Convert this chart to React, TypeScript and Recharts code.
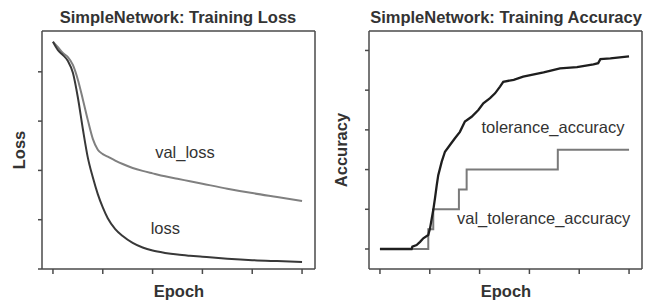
import { LineChart, Line, XAxis, YAxis } from "recharts";

const epochTicks = [0, 20, 40, 60, 80, 100];
const lossTicks = [0, 0.5, 1, 1.5, 2];
const accTicks = [0, 0.1, 0.2, 0.3, 0.4, 0.5];

// loss curves
const lossEpochs = [0, 2, 4, 6, 8, 10, 12, 14, 16, 18, 20, 22, 25, 28, 32, 36, 40, 45, 50, 55, 60, 70, 80, 90, 100];
const loss = [2.305, 2.22, 2.17, 2.11, 1.99, 1.74, 1.42, 1.13, 0.93, 0.76, 0.625, 0.515, 0.405, 0.335, 0.265, 0.218, 0.187, 0.163, 0.146, 0.134, 0.124, 0.105, 0.09, 0.08, 0.071];
const valLoss = [2.305, 2.25, 2.19, 2.15, 2.07, 1.92, 1.72, 1.51, 1.32, 1.21, 1.165, 1.14, 1.1, 1.065, 1.025, 0.995, 0.97, 0.94, 0.915, 0.89, 0.865, 0.815, 0.77, 0.73, 0.69];

// accuracy curves
const accEpochs = [0, 12.7, 13, 14.7, 16.1, 17.4, 19.4, 20.1, 20.8, 21.4, 22.1, 22.8, 23.4, 24.8, 26.1, 28.1, 30.1, 32.1, 34.1, 36.8, 39.5, 41.5, 44.2, 46.2, 48.2, 49.5, 53.7, 57.5, 65.7, 72.3, 79.1, 85.7, 87.6, 88.5, 92.5, 100];
const accuracy = [0, 0, 0.006, 0.01, 0.018, 0.027, 0.035, 0.052, 0.077, 0.098, 0.128, 0.161, 0.186, 0.22, 0.245, 0.262, 0.279, 0.295, 0.321, 0.333, 0.35, 0.367, 0.38, 0.392, 0.409, 0.421, 0.426, 0.434, 0.445, 0.455, 0.458, 0.465, 0.468, 0.478, 0.48, 0.485];
const valAccEpochs = [0, 19.4, 21.4, 31.7, 34.8, 71.4, 100];
const valAccuracy = [0, 0.05, 0.1, 0.15, 0.2, 0.25, 0.25];

const lossData = lossEpochs.map((e, i) => ({ epoch: e, loss: loss[i], val_loss: valLoss[i] }));
const accData = accEpochs.map((e, i) => ({ epoch: e, acc: accuracy[i] }));
const valAccData = valAccEpochs.map((e, i) => ({ epoch: e, val: valAccuracy[i] }));

const W = 327;
const H = 301;
// plot box: x 42..315, y 31..269 (axes take 10px each)
const margin = { top: 21, right: 2, bottom: 22, left: 32 };
const xDomain = [-4.4, 105.2];
const frame = "#4a4a4a";
const font = "'Liberation Sans', Arial, sans-serif";
const textColor = "#333";
const blank = () => "";

function Frame({ yDomain, yTicks }: { yDomain: number[]; yTicks: number[] }) {
  return [
    <XAxis key="xb" xAxisId="b" dataKey="epoch" type="number" domain={xDomain} ticks={epochTicks} height={10}
      tickFormatter={blank} tickSize={5} stroke={frame} strokeWidth={1.5} />,
    <XAxis key="xt" xAxisId="t" dataKey="epoch" orientation="top" type="number" domain={xDomain} height={10}
      tickFormatter={blank} tickLine={false} stroke={frame} strokeWidth={1.5} />,
    <YAxis key="yl" yAxisId="l" type="number" domain={yDomain} ticks={yTicks} width={10}
      tickFormatter={blank} tickSize={4} stroke={frame} strokeWidth={1.5} />,
    <YAxis key="yr" yAxisId="r" orientation="right" type="number" domain={yDomain} width={10}
      tickFormatter={blank} tickLine={false} stroke={frame} strokeWidth={1.5} />,
  ];
}

function LossChart() {
  return (
    <LineChart width={W} height={H} data={lossData} margin={margin}>
      {Frame({ yDomain: [0, 2.414], yTicks: lossTicks })}
      <Line xAxisId="b" yAxisId="l" dataKey="val_loss" type="monotone" stroke="#808080" strokeWidth={2}
        dot={false} isAnimationActive={false} />
      <Line xAxisId="b" yAxisId="l" dataKey="loss" type="monotone" stroke="#383838" strokeWidth={2}
        dot={false} isAnimationActive={false} />
    </LineChart>
  );
}

function AccuracyChart() {
  return (
    <LineChart width={W} height={H} margin={margin}>
      {Frame({ yDomain: [-0.0504, 0.549], yTicks: accTicks })}
      <Line xAxisId="b" yAxisId="l" data={valAccData} dataKey="val" type="stepAfter" stroke="#7a7a7a" strokeWidth={2}
        dot={false} isAnimationActive={false} />
      <Line xAxisId="b" yAxisId="l" data={accData} dataKey="acc" type="linear" stroke="#1e1e1e" strokeWidth={2.3}
        dot={false} isAnimationActive={false} />
    </LineChart>
  );
}

export default function App() {
  const t = { fontFamily: font, fill: textColor };
  return (
    <div style={{ position: "absolute", left: 0, top: 0, width: 654, height: 301, background: "#fff" }}>
      <div style={{ position: "absolute", left: 0, top: 0 }}>
        <LossChart />
      </div>
      <div style={{ position: "absolute", left: 327, top: 0 }}>
        <AccuracyChart />
      </div>
      <svg width={654} height={301} style={{ position: "absolute", left: 0, top: 0, pointerEvents: "none" }}>
        <text {...t} x={178} y={23} fontSize={16.5} fontWeight="bold" textAnchor="middle">SimpleNetwork: Training Loss</text>
        <text {...t} x={506} y={23} fontSize={16.5} fontWeight="bold" textAnchor="middle">SimpleNetwork: Training Accuracy</text>
        <text {...t} x={179} y={297} fontSize={16.5} fontWeight="bold" textAnchor="middle">Epoch</text>
        <text {...t} x={506} y={297} fontSize={16.5} fontWeight="bold" textAnchor="middle">Epoch</text>
        <text {...t} x={25} y={150} fontSize={16.5} fontWeight="bold" textAnchor="middle" transform="rotate(-90 25 150)">Loss</text>
        <text {...t} x={347} y={150} fontSize={16.5} fontWeight="bold" textAnchor="middle" transform="rotate(-90 347 150)">Accuracy</text>
        <text {...t} x={185} y={157.5} fontSize={16.5} textAnchor="middle">val_loss</text>
        <text {...t} x={165.3} y={234.3} fontSize={16.5} textAnchor="middle">loss</text>
        <text {...t} x={553} y={133.3} fontSize={16.5} textAnchor="middle">tolerance_accuracy</text>
        <text {...t} x={543.7} y={224.3} fontSize={16.5} textAnchor="middle">val_tolerance_accuracy</text>
      </svg>
    </div>
  );
}
